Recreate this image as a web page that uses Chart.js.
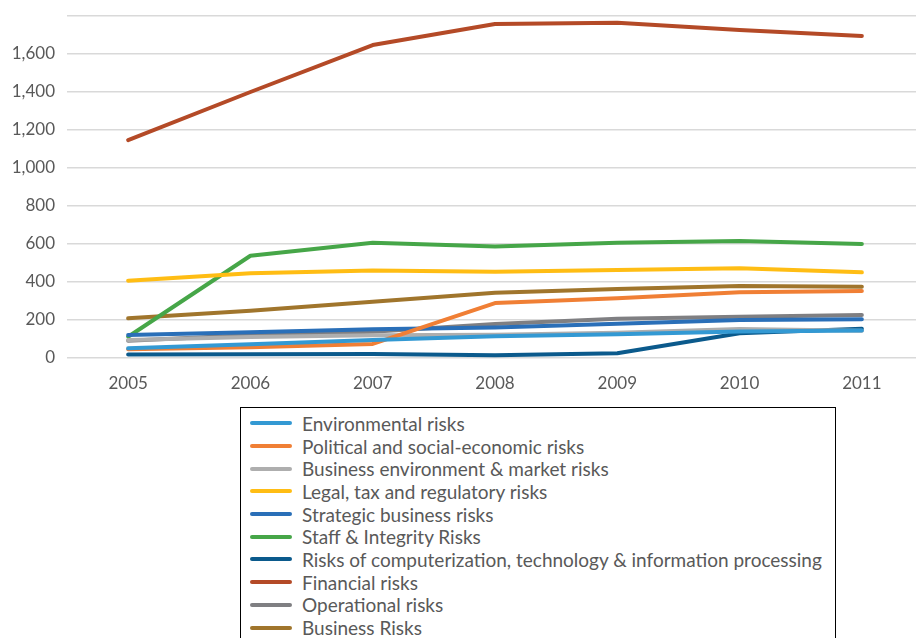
<!DOCTYPE html>
<html>
<head>
<meta charset="utf-8">
<script src="https://cdn.jsdelivr.net/npm/chart.js@4/dist/chart.umd.min.js"></script>
<style>
  html, body { margin: 0; padding: 0; background: #fff; width: 916px; height: 638px; overflow: hidden; }
  #wrap { position: relative; width: 916px; height: 638px; overflow: hidden; }
  #chart { position: absolute; left: 0; top: 0; }
  #legend {
    position: absolute; left: 240px; top: 407px; width: 596px; height: 260px;
    border: 1.5px solid #000; box-sizing: border-box; padding-top: 4px;
    font-family: Lato, "Open Sans", sans-serif; font-size: 19px; color: #595959;
  }
  .item { height: 22.7px; display: flex; align-items: center; white-space: nowrap; }
  .swatch { width: 42px; height: 4px; border-radius: 2px; margin-left: 9px; margin-right: 10px; }
</style>
</head>
<body>
<div id="wrap">
  <canvas id="chart" width="930" height="400"></canvas>
  <div id="legend"></div>
</div>
<script>
const years = ['2005', '2006', '2007', '2008', '2009', '2010', '2011'];

const environmental = [51, 72, 95, 115, 125, 140, 145];
const political = [46, 56, 74, 289, 314, 346, 353];
const businessEnv = [95, 110, 120, 123, 133, 153, 144];
const legalTax = [407, 446, 460, 454, 463, 472, 451];
const strategic = [121, 135, 151, 160, 180, 200, 204];
const staffIntegrity = [112, 538, 607, 587, 607, 616, 600];
const computerization = [19, 20, 21, 14, 25, 130, 154];
const financial = [1147, 1400, 1647, 1758, 1765, 1726, 1695];
const operational = [91, 121, 138, 179, 207, 217, 226];
const businessRisks = [209, 249, 296, 344, 363, 379, 375];

const series = [
  ['Environmental risks', environmental, '#3399d3'],
  ['Political and social-economic risks', political, '#f07f35'],
  ['Business environment & market risks', businessEnv, '#aeaeae'],
  ['Legal, tax and regulatory risks', legalTax, '#ffbd14'],
  ['Strategic business risks', strategic, '#2a6fb8'],
  ['Staff & Integrity Risks', staffIntegrity, '#46a648'],
  ['Risks of computerization, technology & information processing', computerization, '#0b5a8c'],
  ['Financial risks', financial, '#b44a27'],
  ['Operational risks', operational, '#7f7f82'],
  ['Business Risks', businessRisks, '#a0752c']
];

const textColor = '#595959';
const font = { family: 'Lato, "Open Sans", sans-serif', size: 17 };

const chart = new Chart(document.getElementById('chart'), {
  type: 'line',
  data: {
    labels: years,
    datasets: series.map(([label, data, color]) => ({
      label: label,
      data: data,
      borderColor: color,
      backgroundColor: color,
      borderWidth: 4,
      pointRadius: 0,
      borderCapStyle: 'round',
      borderJoinStyle: 'round',
      tension: 0
    }))
  },
  options: {
    responsive: false,
    animation: false,
    layout: { padding: { top: 16, right: 7, left: 0, bottom: 0 } },
    plugins: {
      legend: { display: false },
      tooltip: { enabled: false }
    },
    scales: {
      x: {
        offset: true,
        grid: { display: false, drawTicks: false },
        border: { display: false },
        ticks: { color: textColor, font: font, padding: 15 },
        afterFit: function(scale) { scale.height = 42; }
      },
      y: {
        min: 0,
        max: 1800,
        grid: { color: '#d9d9d9', lineWidth: 1.5, drawTicks: false },
        border: { display: false },
        ticks: {
          stepSize: 200,
          color: textColor,
          font: font,
          padding: 12,
          callback: function(value) {
            if (value === 1800) return '';
            return value.toLocaleString('en-US');
          }
        },
        afterFit: function(scale) {
          scale.width = 67;
          scale.paddingTop = 0;
          scale.paddingBottom = 0;
        }
      }
    }
  }
});

// Legend in one column, drawn from the datasets
const legend = document.getElementById('legend');
chart.data.datasets.forEach(ds => {
  const item = document.createElement('div');
  item.className = 'item';
  item.innerHTML = `<span class="swatch" style="background:${ds.borderColor}"></span><span>${ds.label.replace('&', '&amp;')}</span>`;
  legend.appendChild(item);
});
</script>
</body>
</html>
